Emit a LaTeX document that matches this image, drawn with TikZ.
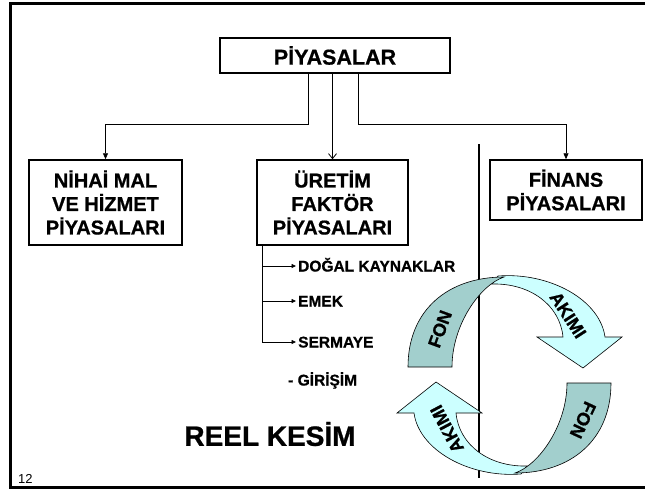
\documentclass[tikz,border=0pt]{standalone}
\usepackage{fontspec}
\setmainfont{Liberation Sans}[BoldFont={Liberation Sans Bold},BoldFeatures={FakeBold=0.8}]
\usetikzlibrary{arrows.meta,calc}
\definecolor{fondark}{HTML}{A2CFCD}
\definecolor{akimlight}{HTML}{CCFFFF}
\newcommand\fonflow{%
  \filldraw[fill=akimlight, draw=black, line width=0.6pt]
    (492,284) -- (498,276) .. controls (550,272) and (600,300) .. (605,337)
    -- (622,337) -- (583,368) -- (537,337) -- (563,337)
    .. controls (560,305) and (530,283) .. (492,284) -- cycle;
  \filldraw[fill=fondark, draw=black, line width=0.6pt]
    (408,367) .. controls (408,310) and (448,277) .. (504,277)
    .. controls (480,285) and (452,325) .. (452,367) -- cycle;
}
\begin{document}
\begin{tikzpicture}[x=1pt,y=-1pt,
  box/.style={draw, line width=1.5pt, align=center, inner sep=0pt,
    font=\bfseries\fontsize{20}{23.5}\selectfont},
  conn/.style={line width=0.8pt, -{Triangle[length=6pt,width=5pt]}},
  openconn/.style={line width=0.8pt, -{Straight Barb[length=5pt,width=8pt]}},
  brarrow/.style={line width=0.8pt, -{Triangle[length=4.5pt,width=4pt]}},
  small/.style={font=\bfseries\fontsize{15.5}{18}\selectfont, anchor=west,
    inner sep=2pt, text height=11pt, text depth=0pt},
  flowtxt/.style={font=\bfseries\fontsize{18}{20}\selectfont, inner sep=0pt}]
\useasboundingbox (0,0) rectangle (645,490);
\fill[white] (0,0) rectangle (645,490);
\draw[line width=3pt] (10,3) rectangle (652,487);

\node[box, minimum width=230pt, minimum height=35pt, font=\bfseries\fontsize{21.5}{24}\selectfont] (piy) at (335,55.5) {PİYASALAR};
\node[box, minimum width=153pt, minimum height=85pt] (nihai) at (105.5,202.5) {NİHAİ MAL\\VE HİZMET\\PİYASALARI};
\node[box, minimum width=151pt, minimum height=85pt] (uretim) at (332.5,202.5) {ÜRETİM\\FAKTÖR\\PİYASALARI};
\node[box, minimum width=152pt, minimum height=60pt] (finans) at (566,190) {FİNANS\\PİYASALARI};

\draw[conn] ([xshift=-27pt]piy.south) -- ++(0,51) -| (nihai.north);
\draw[openconn] (piy.south -| uretim.north) -- (uretim.north);
\draw[conn] ([xshift=23pt]piy.south) -- ++(0,51) -| (finans.north);

\coordinate (dtop) at (479,144);
\coordinate (dbot) at (479,478);
\draw[line width=2pt] (dtop) -- (dbot);

\node[small] (dogal) at (296,266) {DOĞAL KAYNAKLAR};
\node[small] (emek) at (296,301) {EMEK};
\node[small] (serm) at (296,342) {SERMAYE};
\node[small] (gir) at (286,380) {- GİRİŞİM};
\coordinate (br0) at ([xshift=-70.5pt]uretim.south);
\draw[line width=0.8pt] (br0) -- (br0 |- serm.west);
\draw[brarrow] (br0 |- dogal.west) -- (dogal.west);
\draw[brarrow] (br0 |- emek.west) -- (emek.west);
\draw[brarrow] (br0 |- serm.west) -- (serm.west);

\node[font=\bfseries\fontsize{28}{32}\selectfont] (reel) at (270,434) {REEL KESİM};
\node[font=\fontsize{13}{15}\selectfont, anchor=west, inner sep=0pt] (num) at (18,479) {12};

\fonflow
\begin{scope}[rotate around={180:(509.5,375)}]
\fonflow
\end{scope}
\node[flowtxt, rotate=70] (fon1) at (440,329) {FON};
\node[flowtxt, rotate=-57] (ak1) at (568,315) {AKIMI};
\node[flowtxt, rotate=118] (ak2) at (447,429) {AKIMI};
\node[flowtxt, rotate=245] (fon2) at (583,420) {FON};
\end{tikzpicture}
\end{document}
